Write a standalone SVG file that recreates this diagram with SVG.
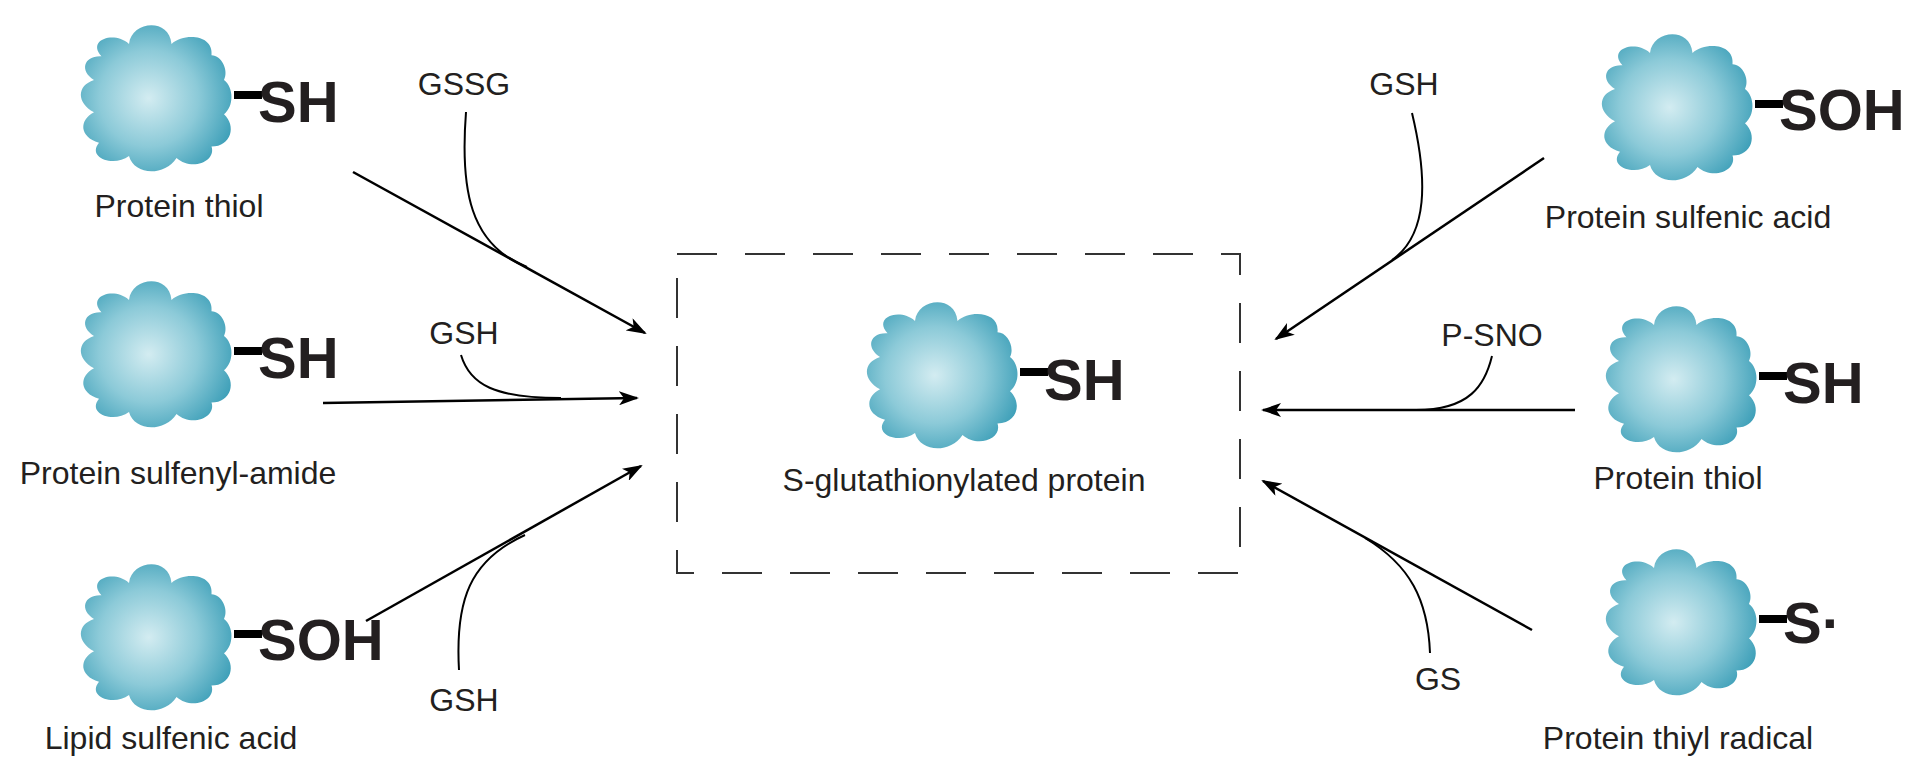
<svg xmlns="http://www.w3.org/2000/svg" width="1914" height="770" viewBox="0 0 1914 770">
<defs>
<radialGradient id="g" cx="45%" cy="50%" r="60%">
<stop offset="0" stop-color="#d3ecf1"/><stop offset="0.55" stop-color="#8ccad8"/><stop offset="1" stop-color="#3d9fb8"/>
</radialGradient>
<path id="blob" d="M-50,-45 C-62,-62 -40,-72 -28,-58 C-26,-82 4,-86 6,-58 C16,-70 40,-68 38,-46 C46,-46 52,-30 48,-20 C56,-12 56,8 48,16 C58,28 54,50 38,50 C42,66 22,76 10,62 C0,82 -24,80 -28,60 C-40,72 -62,62 -52,46 C-68,40 -68,22 -56,14 C-70,4 -70,-14 -56,-20 C-68,-30 -64,-46 -50,-45 Z" fill="url(#g)" transform="scale(1.25,0.95)"/>
<marker id="ah" viewBox="0 0 20 14" refX="18" refY="7" markerWidth="20" markerHeight="14" markerUnits="userSpaceOnUse" orient="auto"><path d="M0,0 L20,7 L0,14 L5,7 Z" fill="#000"/></marker>
</defs>
<style>
text{font-family:"Liberation Sans",Arial,sans-serif;fill:#231f20}
.lbl{font-size:32px;text-anchor:middle}
.grp{font-size:58px;font-weight:bold}
.stub{fill:#000}
.ln{fill:none;stroke:#000;stroke-width:2.5}
.cv{fill:none;stroke:#000;stroke-width:2}
</style>
<rect width="1914" height="770" fill="#fff"/>
<rect x="677" y="254" width="563" height="319" fill="none" stroke="#333" stroke-width="2" stroke-dasharray="40 28"/>
<g id="p-thiol-l"><use href="#blob" transform="translate(164,99)"/><rect class="stub" x="234" y="91" width="28" height="8"/><text class="grp" x="258" y="122">SH</text><text class="lbl" x="179" y="217">Protein thiol</text></g>
<g id="p-sulfenylamide"><use href="#blob" transform="translate(164,355)"/><rect class="stub" x="234" y="347" width="28" height="8"/><text class="grp" x="258" y="378">SH</text><text class="lbl" x="178" y="484">Protein sulfenyl-amide</text></g>
<g id="lipid-sulfenic"><use href="#blob" transform="translate(164,638)"/><rect class="stub" x="234" y="630" width="28" height="8"/><text class="grp" x="258" y="660">SOH</text><text class="lbl" x="171" y="749">Lipid sulfenic acid</text></g>
<g id="center"><use href="#blob" transform="translate(950,376)"/><rect class="stub" x="1020" y="368" width="28" height="8"/><text class="grp" x="1044" y="400">SH</text><text class="lbl" x="964" y="491">S-glutathionylated protein</text></g>
<g id="p-sulfenic-r"><use href="#blob" transform="translate(1685,108)"/><rect class="stub" x="1755" y="100" width="28" height="8"/><text class="grp" x="1779" y="130">SOH</text><text class="lbl" x="1688" y="228">Protein sulfenic acid</text></g>
<g id="p-thiol-r"><use href="#blob" transform="translate(1689,380)"/><rect class="stub" x="1759" y="372" width="28" height="8"/><text class="grp" x="1783" y="403">SH</text><text class="lbl" x="1678" y="489">Protein thiol</text></g>
<g id="p-thiyl"><use href="#blob" transform="translate(1689,623)"/><rect class="stub" x="1759" y="615" width="28" height="8"/><text class="grp" x="1783" y="643">S·</text><text class="lbl" x="1678" y="749">Protein thiyl radical</text></g>
<g id="reagents">
<text class="lbl" x="464" y="95">GSSG</text>
<text class="lbl" x="464" y="344">GSH</text>
<text class="lbl" x="464" y="711">GSH</text>
<text class="lbl" x="1404" y="95">GSH</text>
<text class="lbl" x="1492" y="346">P-SNO</text>
<text class="lbl" x="1438" y="690">GS</text>
</g>
<g id="connectors">
<path class="ln" d="M353,172 L645,333" marker-end="url(#ah)"/>
<path class="cv" d="M466,112 C460,190 470,245 527,267"/>
<path class="ln" d="M323,403 L637,398" marker-end="url(#ah)"/>
<path class="cv" d="M461,355 C470,385 495,398 561,398"/>
<path class="ln" d="M366,621 L641,466" marker-end="url(#ah)"/>
<path class="cv" d="M459,670 C455,600 470,560 525,535"/>
<path class="ln" d="M1544,158 L1276,339" marker-end="url(#ah)"/>
<path class="cv" d="M1412,113 C1428,180 1428,235 1392,260"/>
<path class="ln" d="M1575,410 L1263,410" marker-end="url(#ah)"/>
<path class="cv" d="M1492,356 C1485,385 1470,410 1416,410"/>
<path class="ln" d="M1532,630 L1263,481" marker-end="url(#ah)"/>
<path class="cv" d="M1430,653 C1428,600 1410,565 1365,538"/>
</g>
</svg>
